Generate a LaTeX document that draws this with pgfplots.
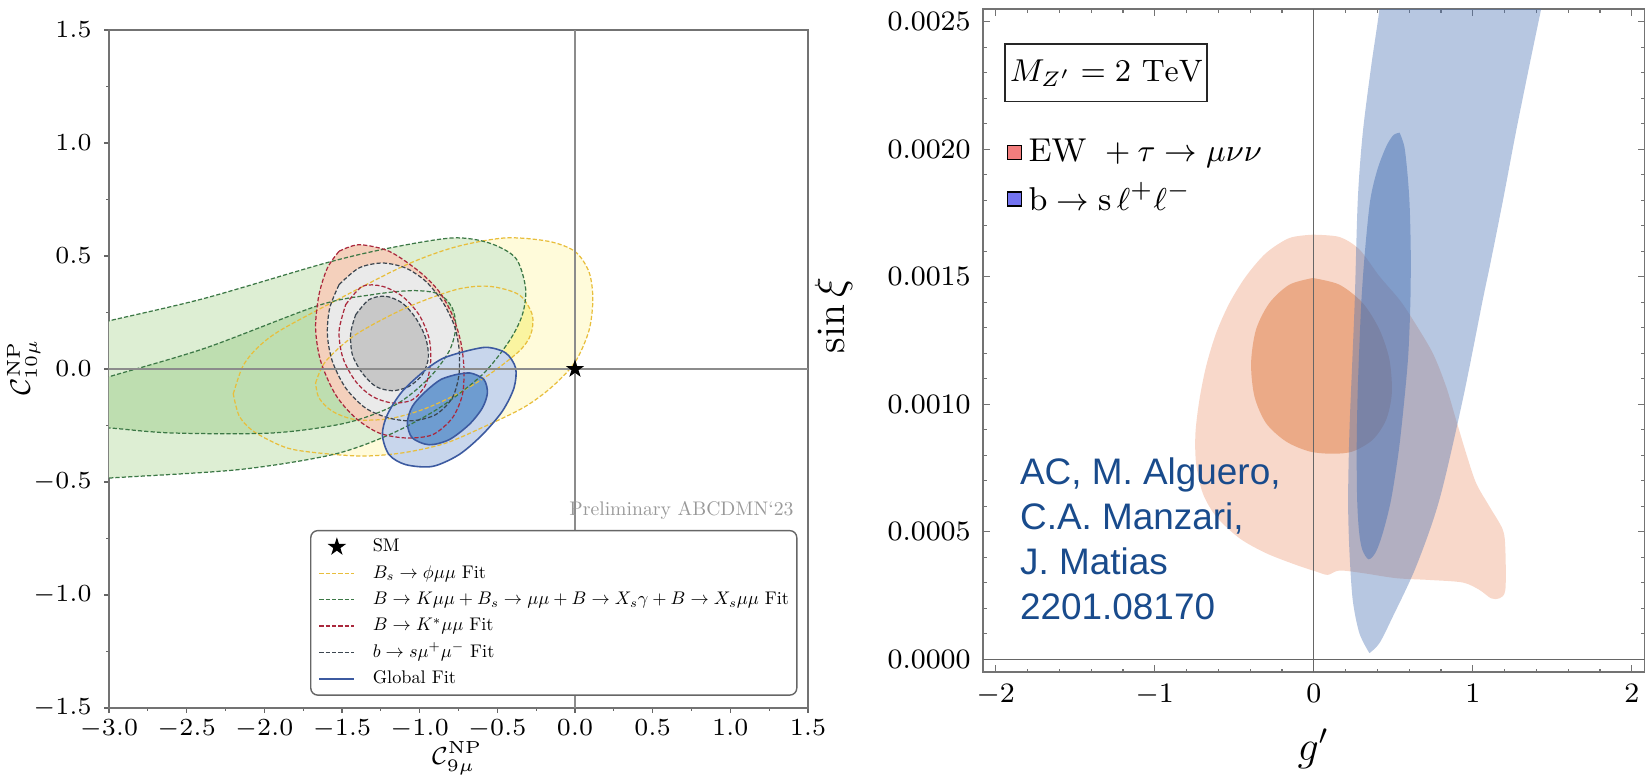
\documentclass[border=0pt]{standalone}
\usepackage{fontspec}
\usepackage{graphicx}
\usepackage{pgfplots}
\usepackage{pgfplotstable}
\pgfplotsset{compat=1.18}
\newfontfamily\arialfont{Liberation Sans}
\newcommand{\legtxt}[1]{\scalebox{0.52}{\fontsize{10}{12}\selectfont #1}}

\pgfplotsset{
  starlegend/.style={legend image code/.code={\draw[##1] plot coordinates {(0.175cm,0cm)};}},
  shortline/.style={legend image code/.code={\draw[##1] (0cm,0cm) -- (0.35cm,0cm);}},
}

\definecolor{yOutF}{RGB}{255,251,218}
\definecolor{yInF}{RGB}{250,244,160}
\definecolor{gOutF}{RGB}{221,238,211}
\definecolor{gInF}{RGB}{190,222,176}
\definecolor{kOutF}{RGB}{244,208,188}
\definecolor{sOutF}{RGB}{234,234,234}
\definecolor{sInF}{RGB}{200,200,200}
\definecolor{bOutF}{RGB}{200,214,236}
\definecolor{bInF}{RGB}{110,156,208}
\definecolor{yLine}{RGB}{232,190,60}
\definecolor{gLine}{RGB}{60,120,70}
\definecolor{kLine}{RGB}{170,40,60}
\definecolor{sLine}{RGB}{60,70,80}
\definecolor{bLine}{RGB}{60,90,160}
\definecolor{oOutF}{RGB}{248,216,202}
\definecolor{oInF}{RGB}{235,170,135}
\definecolor{bandBlue}{RGB}{75,115,180}
\definecolor{legRed}{RGB}{242,125,125}
\definecolor{legBlue}{RGB}{115,115,240}
\definecolor{authBlue}{RGB}{25,75,140}

\pgfdeclareplotmark{fstar}{%
  \pgfpathmoveto{\pgfpoint{0pt}{\pgfplotmarksize}}%
  \pgfpathlineto{\pgfpoint{-0.2245\pgfplotmarksize}{0.309\pgfplotmarksize}}%
  \pgfpathlineto{\pgfpoint{-0.951\pgfplotmarksize}{0.309\pgfplotmarksize}}%
  \pgfpathlineto{\pgfpoint{-0.363\pgfplotmarksize}{-0.118\pgfplotmarksize}}%
  \pgfpathlineto{\pgfpoint{-0.588\pgfplotmarksize}{-0.809\pgfplotmarksize}}%
  \pgfpathlineto{\pgfpoint{0pt}{-0.382\pgfplotmarksize}}%
  \pgfpathlineto{\pgfpoint{0.588\pgfplotmarksize}{-0.809\pgfplotmarksize}}%
  \pgfpathlineto{\pgfpoint{0.363\pgfplotmarksize}{-0.118\pgfplotmarksize}}%
  \pgfpathlineto{\pgfpoint{0.951\pgfplotmarksize}{0.309\pgfplotmarksize}}%
  \pgfpathlineto{\pgfpoint{0.2245\pgfplotmarksize}{0.309\pgfplotmarksize}}%
  \pgfpathclose\pgfusepathqfillstroke}

% ---------------- left panel shapes ----------------
\pgfplotstableread{
x y
-3.3 0.165
-2.989 0.215
-2.378 0.314
-1.605 0.469
-1.197 0.535
-0.790 0.580
-0.554 0.558
-0.382 0.491
-0.318 0.358
-0.339 0.240
-0.425 0.122
-0.597 -0.025
-0.876 -0.173
-1.197 -0.291
-1.562 -0.379
-2.163 -0.445
-2.989 -0.482
-3.3 -0.496
-3.6 -0.17
-3.3 0.165
}\tGreenOut
\pgfplotstableread{
x y
-3.3 -0.096
-2.989 -0.032
-2.378 0.093
-1.648 0.282
-1.305 0.329
-1.047 0.347
-0.876 0.332
-0.790 0.270
-0.768 0.181
-0.811 0.078
-0.940 -0.040
-1.155 -0.158
-1.476 -0.239
-1.948 -0.283
-2.592 -0.283
-2.989 -0.261
-3.3 -0.244
-3.6 -0.17
-3.3 -0.096
}\tGreenIn
\pgfplotstableread{
x y
-2.20 -0.11
-2.14 0.01
-2.05 0.09
-1.90 0.17
-1.52 0.31
-1.09 0.46
-0.77 0.54
-0.45 0.58
-0.17 0.565
0.00 0.52
0.09 0.43
0.115 0.31
0.09 0.17
0.00 0.03
-0.15 -0.08
-0.33 -0.17
-0.60 -0.26
-0.84 -0.33
-1.10 -0.37
-1.35 -0.385
-1.60 -0.375
-1.85 -0.35
-2.06 -0.28
-2.16 -0.21
-2.20 -0.11
}\tYellowOut
\pgfplotstableread{
x y
-1.670 -0.062
-1.605 0.034
-1.412 0.152
-1.090 0.270
-0.768 0.351
-0.554 0.366
-0.361 0.329
-0.275 0.240
-0.285 0.152
-0.361 0.078
-0.554 -0.025
-0.768 -0.114
-0.983 -0.180
-1.197 -0.220
-1.412 -0.224
-1.562 -0.187
-1.648 -0.128
-1.670 -0.062
}\tYellowIn
\pgfplotstableread{
x y
-1.519 0.521
-1.391 0.550
-1.197 0.521
-1.004 0.432
-0.876 0.344
-0.790 0.240
-0.736 0.122
-0.715 0.004
-0.725 -0.114
-0.790 -0.217
-0.918 -0.291
-1.090 -0.305
-1.262 -0.283
-1.412 -0.217
-1.541 -0.114
-1.637 0.034
-1.670 0.181
-1.648 0.329
-1.594 0.447
-1.519 0.521
}\tKOut
\pgfplotstableread{
x y
-1.476 0.285
-1.369 0.366
-1.240 0.366
-1.112 0.322
-1.004 0.240
-0.940 0.137
-0.929 0.034
-0.961 -0.069
-1.047 -0.136
-1.176 -0.150
-1.305 -0.121
-1.412 -0.055
-1.494 0.049
-1.519 0.167
-1.476 0.285
}\tKIn
\pgfplotstableread{
x y
-1.519 0.373
-1.391 0.447
-1.240 0.469
-1.090 0.447
-0.961 0.388
-0.854 0.299
-0.779 0.196
-0.747 0.093
-0.747 -0.025
-0.790 -0.128
-0.897 -0.202
-1.047 -0.229
-1.197 -0.217
-1.348 -0.173
-1.476 -0.084
-1.562 0.034
-1.594 0.152
-1.579 0.270
-1.519 0.373
}\tSOut
\pgfplotstableread{
x y
-1.412 0.240
-1.326 0.307
-1.219 0.322
-1.112 0.292
-1.026 0.226
-0.961 0.137
-0.944 0.049
-0.983 -0.025
-1.069 -0.077
-1.176 -0.096
-1.283 -0.077
-1.369 -0.018
-1.433 0.063
-1.444 0.159
-1.412 0.240
}\tSIn
\pgfplotstableread{
x y
-0.747 0.071
-0.575 0.096
-0.446 0.071
-0.382 0.004
-0.393 -0.084
-0.468 -0.187
-0.597 -0.291
-0.747 -0.379
-0.918 -0.431
-1.090 -0.423
-1.197 -0.379
-1.240 -0.291
-1.208 -0.202
-1.112 -0.099
-0.961 -0.003
-0.854 0.046
-0.747 0.071
}\tBOut
\pgfplotstableread{
x y
-0.768 -0.025
-0.672 -0.018
-0.586 -0.047
-0.564 -0.106
-0.597 -0.173
-0.682 -0.246
-0.811 -0.313
-0.940 -0.335
-1.047 -0.305
-1.079 -0.239
-1.047 -0.165
-0.961 -0.099
-0.865 -0.047
-0.768 -0.025
}\tBIn

% ---------------- right panel shapes ----------------
\pgfplotstableread{
x y
-0.006 0.001665
0.161 0.001656
0.287 0.001607
0.413 0.001502
0.539 0.001410
0.623 0.001332
0.748 0.001201
0.832 0.001070
0.895 0.000939
0.958 0.000808
1.021 0.000691
1.105 0.000599
1.189 0.000508
1.205 0.000429
1.205 0.000272
1.168 0.000239
1.115 0.000239
1.042 0.000272
0.937 0.000301
0.727 0.000311
0.518 0.000318
0.308 0.000338
0.161 0.000348
0.088 0.000331
0.015 0.000344
-0.111 0.000370
-0.300 0.000416
-0.468 0.000475
-0.614 0.000560
-0.698 0.000651
-0.740 0.000769
-0.744 0.000887
-0.719 0.001018
-0.677 0.001149
-0.614 0.001279
-0.530 0.001397
-0.426 0.001502
-0.300 0.001593
-0.153 0.001652
-0.006 0.001665
}\tOrOut
\pgfplotstableread{
x y
-0.006 0.001495
0.161 0.001469
0.308 0.001397
0.413 0.001293
0.476 0.001175
0.491 0.001044
0.455 0.000939
0.371 0.000861
0.245 0.000815
0.119 0.000806
-0.027 0.000815
-0.174 0.000854
-0.300 0.000926
-0.373 0.001031
-0.394 0.001162
-0.363 0.001293
-0.279 0.001397
-0.153 0.001469
-0.006 0.001495
}\tOrIn
\pgfplotstableread{
x y
0.350 0.000024
0.287 0.000102
0.245 0.000233
0.224 0.000429
0.216 0.000625
0.224 0.000887
0.241 0.001149
0.258 0.001410
0.277 0.001803
0.308 0.002063
0.361 0.002325
0.413 0.002550
0.430 0.002700
1.480 0.002700
1.430 0.002550
1.355 0.002325
1.270 0.002063
1.190 0.001800
1.110 0.001550
1.063 0.001410
0.937 0.001018
0.790 0.000625
0.644 0.000364
0.497 0.000167
0.413 0.000063
0.350 0.000024
}\tBand
\pgfplotstableread{
x y
0.540 0.002065
0.570 0.002010
0.590 0.001900
0.603 0.001780
0.610 0.001600
0.608 0.001410
0.595 0.001200
0.570 0.001020
0.535 0.000820
0.486 0.000625
0.434 0.000495
0.390 0.000420
0.345 0.000392
0.305 0.000430
0.285 0.000500
0.273 0.000625
0.270 0.000820
0.275 0.001020
0.285 0.001200
0.300 0.001410
0.322 0.001600
0.355 0.001800
0.400 0.001920
0.455 0.002010
0.500 0.002055
0.540 0.002065
}\tBandIn

\tikzset{dashline/.style={line width=0.35pt, dash pattern=on 1.2pt off 0.6pt}}

\begin{document}
\begin{tikzpicture}
\path[use as bounding box] (0,0) rectangle (16.45,7.78);

% ================= LEFT PANEL =================
\begin{axis}[
  at={(1.09cm,0.70cm)}, anchor=south west, scale only axis,
  width=6.99cm, height=6.78cm,
  xmin=-3, xmax=1.5, ymin=-1.5, ymax=1.5,
  xtick={-3,-2.5,-2,-1.5,-1,-0.5,0,0.5,1,1.5},
  ytick={-1.5,-1,-0.5,0,0.5,1,1.5},
  minor tick num=1,
  tick align=outside, xtick pos=bottom, ytick pos=left,
  major tick length=1.4pt, minor tick length=0.8pt,
  axis line style={black!55, line width=0.4pt},
  tick style={black!60, line width=0.35pt},
  ticklabel style={font=\fontsize{7.3}{8}\selectfont},
  xticklabel style={inner sep=1pt, yshift=-0.6pt, /pgf/number format/fixed, /pgf/number format/fixed zerofill, /pgf/number format/precision=1},
  yticklabel style={/pgf/number format/fixed, /pgf/number format/fixed zerofill, /pgf/number format/precision=1},
  xlabel={\ensuremath{\mathcal{C}^{\mathrm{NP}}_{9\mu}}},
  ylabel={\ensuremath{\mathcal{C}^{\mathrm{NP}}_{10\mu}}},
  every axis x label/.style={at={(axis description cs:0.498,-0.074)}, anchor=center, inner sep=0pt, font=\fontsize{7.1}{8}\selectfont},
  every axis y label/.style={at={(axis description cs:-0.122,0.503)}, anchor=center, inner sep=0pt, rotate=90, font=\fontsize{7.6}{8}\selectfont},
  legend style={at={(0.985,0.018)}, anchor=south east, draw=black!60, rounded corners=2pt,
    fill=white, font=\fontsize{5.2}{6.2}\selectfont, row sep=1.8pt, column sep=5pt,
    inner xsep=2.2pt, inner ysep=1.8pt, line width=0.4pt,
    nodes={inner sep=0pt, text height=4.2pt, text depth=1.5pt}},
  legend cell align=left,
  shortline,
]
% fills
\addplot[fill=yOutF, draw=none, smooth, forget plot] table {\tYellowOut};
\addplot[fill=yInF, draw=none, smooth, forget plot] table {\tYellowIn};
\addplot[fill=gOutF, draw=none, smooth, forget plot] table {\tGreenOut};
\addplot[fill=gInF, draw=none, smooth, forget plot] table {\tGreenIn};
\addplot[fill=kOutF, draw=none, smooth, forget plot] table {\tKOut};
\addplot[fill=sOutF, draw=none, smooth, forget plot] table {\tSOut};
\addplot[fill=sInF, draw=none, smooth, forget plot] table {\tSIn};
\addplot[fill=bOutF, draw=none, smooth, forget plot] table {\tBOut};
\addplot[fill=bInF, draw=none, smooth, forget plot] table {\tBIn};
% outlines
\addplot[yLine, dashline, smooth, forget plot] table {\tYellowOut};
\addplot[yLine, dashline, smooth, forget plot] table {\tYellowIn};
\addplot[gLine, dashline, smooth, forget plot] table {\tGreenOut};
\addplot[gLine, dashline, smooth, forget plot] table {\tGreenIn};
\addplot[kLine, dashline, smooth, forget plot] table {\tKOut};
\addplot[kLine, dashline, smooth, forget plot] table {\tKIn};
\addplot[sLine, dashline, smooth, forget plot] table {\tSOut};
\addplot[sLine, dashline, smooth, forget plot] table {\tSIn};
\addplot[bLine, line width=0.45pt, smooth, forget plot] table {\tBOut};
\addplot[bLine, line width=0.45pt, smooth, forget plot] table {\tBIn};
% zero lines
\addplot[black!45, line width=0.3pt, forget plot] coordinates {(-3,0) (1.5,0)};
\addplot[black!45, line width=0.3pt, forget plot] coordinates {(0,-1.5) (0,1.5)};
% SM point (legend entry 1)
\addplot[only marks, mark=fstar, mark size=2.1pt, fill=black, draw=black, starlegend] coordinates {(0,0)};
\addlegendentry{\legtxt{SM}}
\addlegendimage{yLine, line width=0.4pt, dash pattern=on 1.2pt off 0.6pt}
\addlegendentry{\legtxt{\ensuremath{B_s\to\phi\mu\mu} Fit}}
\addlegendimage{gLine, line width=0.4pt, dash pattern=on 1.2pt off 0.6pt}
\addlegendentry{\legtxt{\ensuremath{B\to K\mu\mu+B_s\to\mu\mu+B\to X_s\gamma+B\to X_s\mu\mu} Fit}}
\addlegendimage{kLine, line width=0.4pt, dash pattern=on 1.2pt off 0.6pt}
\addlegendentry{\legtxt{\ensuremath{B\to K^{*}\mu\mu} Fit}}
\addlegendimage{sLine, line width=0.4pt, dash pattern=on 1.2pt off 0.6pt}
\addlegendentry{\legtxt{\ensuremath{b\to s\mu^{+}\mu^{-}} Fit}}
\addlegendimage{bLine, line width=0.5pt}
\addlegendentry{\legtxt{Global Fit}}

\node[anchor=base east, text=black!40, inner sep=0pt]
  at (axis cs:1.411,-0.65) {\scalebox{0.56}{\fontsize{10}{12}\selectfont Preliminary ABCDMN`23}};
\end{axis}

% ================= RIGHT PANEL =================
\begin{axis}[
  at={(9.83cm,1.06cm)}, anchor=south west, scale only axis,
  width=6.615cm, height=6.63cm,
  xmin=-2.08, xmax=2.08, ymin=-0.00005, ymax=0.00255,
  xtick={-2,-1,0,1,2},
  ytick={0,0.0005,0.001,0.0015,0.002,0.0025},
  minor x tick num=4, minor y tick num=4,
  tick align=inside,
  major tick length=1.9pt, minor tick length=1.0pt,
  axis line style={black!55, line width=0.45pt},
  tick style={black!55, line width=0.35pt},
  scaled y ticks=false,
  yticklabel style={/pgf/number format/fixed, /pgf/number format/fixed zerofill, /pgf/number format/precision=4},
  ticklabel style={font=\fontsize{8.5}{10}\selectfont},
  xlabel={\ensuremath{g'}}, ylabel={\ensuremath{\sin\xi}},
  every axis x label/.style={at={(axis description cs:0.499,-0.116)}, anchor=center, font=\fontsize{11.5}{12}\selectfont},
  every axis y label/.style={at={(axis description cs:-0.226,0.538)}, anchor=center, rotate=90, font=\fontsize{11.5}{12}\selectfont},
  legend style={at={(axis cs:-1.93,0.0021)}, anchor=north west, draw=none, fill=none,
    font=\fontsize{9.4}{11}\selectfont, row sep=0.5pt, inner xsep=0pt},
  legend cell align=left,
]
\addplot[fill=oOutF, draw=none, smooth, forget plot] table {\tOrOut};
\addplot[fill=oInF, draw=none, smooth, forget plot] table {\tOrIn};
\addplot[fill=bandBlue, fill opacity=0.4, draw=none, smooth, forget plot] table {\tBand};
\addplot[fill=bandBlue, fill opacity=0.5, draw=none, smooth, forget plot] table {\tBandIn};
\addplot[black!60, line width=0.4pt, forget plot] coordinates {(0,-0.00005) (0,0.00255)};
\addplot[black!60, line width=0.4pt, forget plot] coordinates {(-2.08,0) (2.08,0)};

\addlegendimage{only marks, mark=square*, mark size=2pt, mark options={fill=legRed, draw=none}}
\addlegendentry{EW \ensuremath{{}+{}\tau\to\mu\nu\nu}}
\addlegendimage{only marks, mark=square*, mark size=2pt, mark options={fill=legBlue, draw=none}}
\addlegendentry{b\ensuremath{{}\to{}}s\,\ensuremath{\ell^{+}\ell^{-}}}

\node[draw=black!85, line width=0.5pt, minimum width=2.02cm, minimum height=0.577cm, inner sep=0pt,
  font=\fontsize{8.8}{10}\selectfont] at (axis cs:-1.305,0.0023) {\ensuremath{M_{Z'}=2\ \mathrm{TeV}}};

\node[anchor=base west, align=left, text=authBlue, inner sep=0pt,
  font=\arialfont\fontsize{10.5}{12.75}\selectfont] at (axis cs:-1.851,0.000157)
  {AC, M. Alguero,\\C.A. Manzari,\\J. Matias\\2201.08170};
\end{axis}
\end{tikzpicture}
\end{document}
